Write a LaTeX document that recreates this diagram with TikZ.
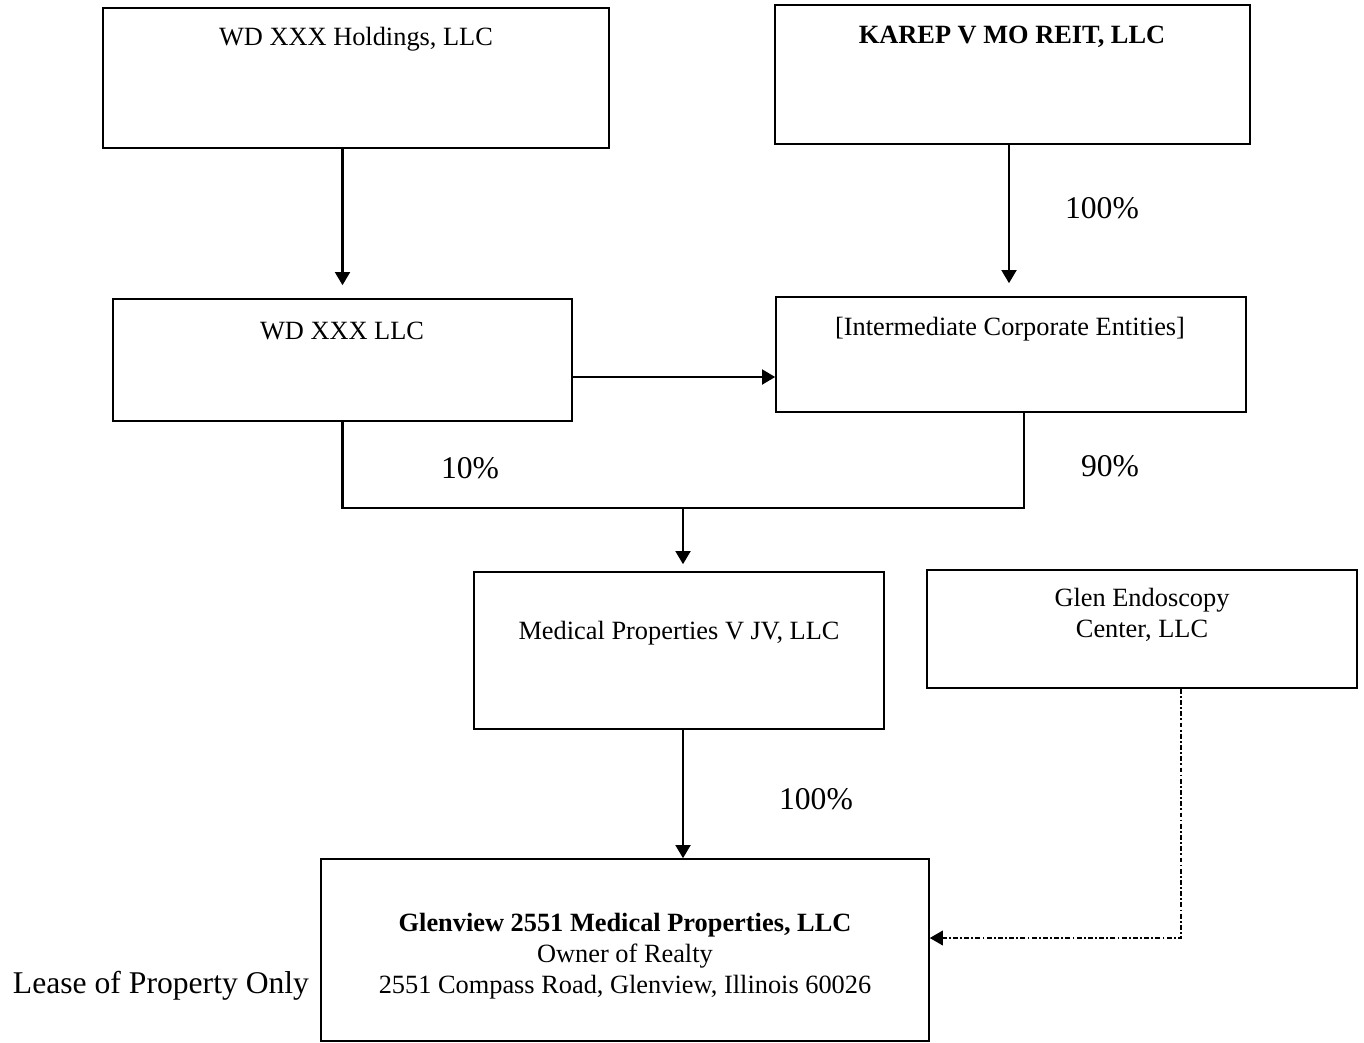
\documentclass[tikz,border=0pt]{standalone}
\usepackage{fontspec}
\setmainfont{Liberation Serif}
\usepackage{tikz}
\usetikzlibrary{arrows.meta, positioning}

\begin{document}
\begin{tikzpicture}[
    >={Triangle[length=7.5pt, width=8.5pt]},
    entity/.style={rectangle, draw, line width=0.9pt, inner sep=0pt},
    entity text/.style={font=\fontsize{15}{17.6}\selectfont, align=center, inner sep=0pt},
    share/.style={font=\fontsize{18}{21}\selectfont, inner sep=0pt},
    link/.style={line width=1.25pt},
    lease/.style={line width=0.6pt, dash pattern=on 2.8pt off 1.3pt on 1pt off 1.3pt}
]
\useasboundingbox (0,0) rectangle (27.28,-20.84);

% boxes
\node[entity, minimum width=10.12cm, minimum height=2.80cm] (holdings) at (7.12,-1.56) {};
\node[entity, minimum width=9.50cm, minimum height=2.78cm] (karep) at (20.25,-1.49) {};
\node[entity, minimum width=9.18cm, minimum height=2.44cm] (wdllc) at (6.85,-7.20) {};
\node[entity, minimum width=9.40cm, minimum height=2.30cm] (inter) at (20.22,-7.09) {};
\node[entity, minimum width=8.20cm, minimum height=3.14cm] (medprop) at (13.58,-13.01) {};
\node[entity, minimum width=8.60cm, minimum height=2.36cm] (glen) at (22.84,-12.58) {};
\node[entity, minimum width=12.16cm, minimum height=3.64cm] (glenview) at (12.50,-19.00) {};

% box texts
\node[entity text] (holdingsT) at (7.12,-0.78) {WD XXX Holdings, LLC};
\node[entity text] (karepT) at (20.24,-0.74) {\textbf{KAREP V MO REIT, LLC}};
\node[entity text] (wdllcT) at (6.84,-6.62) {WD XXX LLC};
\node[entity text] (interT) at (20.20,-6.58) {[Intermediate Corporate Entities]};
\node[entity text] (medpropT) at (13.58,-12.66) {Medical Properties V JV, LLC};
\node[entity text] (glenT) at (22.84,-12.30) {Glen Endoscopy\\Center, LLC};
\node[entity text] (glenviewT) at (12.50,-19.12) {\textbf{Glenview 2551 Medical Properties, LLC}\\Owner of Realty\\2551 Compass Road, Glenview, Illinois 60026};

% percentages
\node[share] (p1) at (22.04,-4.16) {100\%};
\node[share] (p2) at (9.40,-9.36) {10\%};
\node[share] (p3) at (22.20,-9.32) {90\%};
\node[share] (p4) at (16.32,-15.98) {100\%};
\node[share] (leaseT) at (3.22,-19.72) {Lease of Property Only};

% connectors
\coordinate (join) at (13.66,-10.16);
\draw[link, ->, shorten >=0.26cm] (holdings.south -| wdllc) -- (wdllc.north);
\draw[link, ->, shorten >=0.26cm] ([xshift=-0.04cm]karep.south -| inter) -- ([xshift=-0.04cm]inter.north);
\draw[link, ->] ([yshift=-0.34cm]wdllc.east) -- ([yshift=-0.34cm]wdllc.east -| inter.west);
\draw[link] (wdllc.south) |- (join) -| ([xshift=0.26cm]inter.south);
\draw[link, ->, shorten >=0.14cm] (join) -- (join |- medprop.north);
\draw[link, ->] (join |- medprop.south) -- (join |- glenview.north);
\draw[lease, ->] ([xshift=0.78cm]glen.south) |- ([yshift=0.24cm]glenview.east);
\end{tikzpicture}
\end{document}
